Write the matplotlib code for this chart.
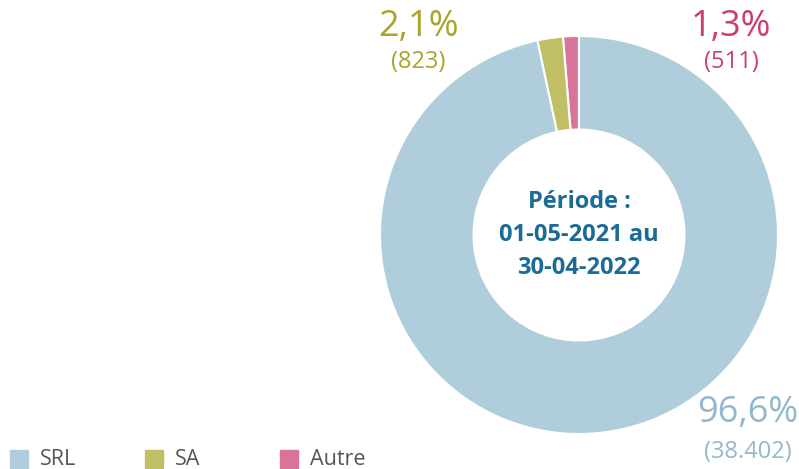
import matplotlib.pyplot as plt
from matplotlib.patches import Rectangle

# data (counter-clockwise from the top)
categories = ['Autre', 'SA', 'SRL']
counts = [511, 823, 38402]
pct_labels = ['1,3%', '2,1%', '96,6%']
count_labels = ['(511)', '(823)', '(38.402)']
colors = ['#d97399', '#c0bf66', '#b0cddc']
label_colors = ['#cc3d70', '#a9a42e', '#92b8cd']
legend_order = ['SRL', 'SA', 'Autre']

W, H = 799, 469
fig = plt.figure(figsize=(W / 100, H / 100), dpi=100)
plt.rcParams['font.family'] = ['Open Sans', 'DejaVu Sans']

# donut: centre (579, 235) px, radius 199 px
cx, cy, r = 579, 235, 199
ax = fig.add_axes([(cx - r) / W, (H - cy - r) / H, 2 * r / W, 2 * r / H])
ax.pie(counts, colors=colors, startangle=90, counterclock=True,
       wedgeprops=dict(width=0.47, edgecolor='white', linewidth=1.5))
ax.set_xlim(-1, 1)
ax.set_ylim(-1, 1)
ax.set_aspect('equal')
ax.axis('off')

# centre text
ax.text(0, 0, 'Période :\n01-05-2021 au\n30-04-2022', ha='center', va='center',
        fontsize=17, fontweight='bold', color='#1a6b96', linespacing=1.5)

def px(x, y):
    return x / W, 1 - y / H

# slice labels
label_pos = {'Autre': (731, 27, 62), 'SA': (418, 27, 62), 'SRL': (748, 413, 452)}
for cat, p, c, col in zip(categories, pct_labels, count_labels, label_colors):
    x, y1, y2 = label_pos[cat]
    fig.text(*px(x, y1), p, ha='center', va='center', fontsize=26, color=col)
    fig.text(*px(x, y2), c, ha='center', va='center', fontsize=17, color=col)

# legend
leg_x = [10, 145, 280]
for x, name in zip(leg_x, legend_order):
    col = colors[categories.index(name)]
    fig.patches.append(Rectangle(px(x, 468), 18 / W, 18 / H, color=col,
                                 transform=fig.transFigure))
    fig.text(*px(x + 30, 459), name, ha='left', va='center', fontsize=15.5,
             color='#555555')

fig.savefig('out.png', dpi=100)
